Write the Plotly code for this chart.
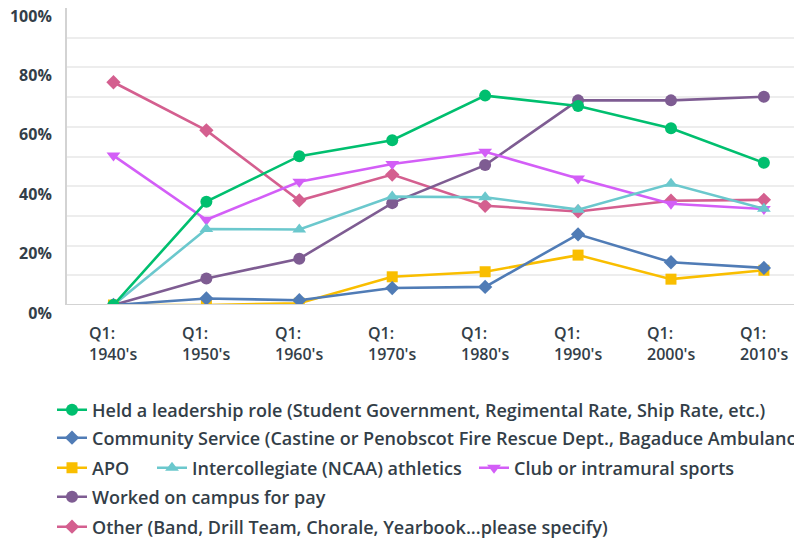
import plotly.graph_objects as go

# categories (survey question rows)
decades = ["1940's", "1950's", "1960's", "1970's", "1980's", "1990's", "2000's", "2010's"]

# percentages
leadership = [0.0, 34.8, 50.1, 55.5, 70.5, 67.0, 59.5, 47.9]
community = [0.0, 2.2, 1.6, 5.7, 6.1, 23.8, 14.4, 12.5]
apo = [0.0, 0.0, 0.6, 9.5, 11.2, 16.8, 8.7, 11.7]
ncaa = [0.0, 25.6, 25.4, 36.5, 36.3, 32.1, 40.8, 32.4]
club = [50.3, 28.7, 41.5, 47.5, 51.6, 42.6, 34.1, 32.3]
worked = [0.0, 8.9, 15.6, 34.3, 47.1, 68.9, 68.9, 70.1]
other = [75.0, 58.8, 35.2, 43.9, 33.4, 31.5, 35.1, 35.4]

y_ticks = [0, 10, 20, 30, 40, 50, 60, 70, 80, 90, 100]
y_labels = ["0%", "", "20%", "", "40%", "", "60%", "", "80%", "", "100%"]

# name, values, colour, symbol, marker size, legend text x / row y (page px)
SERIES = [
    ("Held a leadership role (Student Government, Regimental Rate, Ship Rate, etc.)",
     leadership, "#00bf6f", "circle", 12, 93, 410),
    ("Community Service (Castine or Penobscot Fire Rescue Dept., Bagaduce Ambulance, etc.)",
     community, "#507cb6", "diamond", 11, 93, 438),
    ("APO", apo, "#f9be00", "square", 11, 93, 468),
    ("Intercollegiate (NCAA) athletics", ncaa, "#6bc8cd", "triangle-up", 12, 193, 468),
    ("Club or intramural sports", club, "#d35ef7", "triangle-down", 12, 515, 468),
    ("Worked on campus for pay", worked, "#7e5c92", "circle", 12, 93, 497),
    ("Other (Band, Drill Team, Chorale, Yearbook...please specify)",
     other, "#d45f8f", "diamond", 11, 93, 527),
]

W, H = 802, 544
TEXT = "#333e48"
FONT = "Open Sans, Arial, sans-serif"
LEG_TEXT_OFFSET = 49  # legend box left -> text start (incl. page margin)
LEG_Y_FIX = 8         # page margin shifts everything down

fig = go.Figure()
legends = {}
# first series drawn last so it sits on top, as in the original
for idx in reversed(range(len(SERIES))):
    name, vals, col, sym, size, lx, ly = SERIES[idx]
    key = "legend" if idx == 0 else f"legend{idx + 1}"
    fig.add_trace(go.Scatter(
        x=list(range(len(decades))), y=[v / 100 for v in vals],
        name=name, mode="lines+markers", legend=key,
        line=dict(color=col, width=2.6),
        marker=dict(symbol=sym, size=size, color=col),
    ))
    legends[key] = dict(
        orientation="h", xref="container", yref="container",
        x=(lx - LEG_TEXT_OFFSET) / W, xanchor="left",
        y=1 - (ly - LEG_Y_FIX) / H, yanchor="middle",
        font=dict(size=18, color=TEXT, family=FONT, weight=600),
        bgcolor="rgba(0,0,0,0)",
    )

for i, d in enumerate(decades):
    fig.add_annotation(x=i, y=-0.05, xref="x", yref="paper",
                       text=f"Q1:<br>{d}", showarrow=False, align="left",
                       xanchor="center", yanchor="top",
                       font=dict(size=16, color=TEXT, family=FONT, weight=600))

fig.update_layout(
    width=W, height=H,
    paper_bgcolor="white", plot_bgcolor="white",
    font=dict(family=FONT, color=TEXT, size=16),
    # the page adds an 8px body margin, so the plot is laid out 8px up/left
    margin=dict(l=59, r=8, t=0, b=247, autoexpand=False),
    showlegend=True,
    xaxis=dict(range=[-0.5, 7.41], showticklabels=False, showgrid=False,
               zeroline=False, showline=False, ticks="", automargin=False),
    yaxis=dict(range=[0, 1], tickvals=[t / 100 for t in y_ticks], ticktext=y_labels,
               showgrid=True, gridcolor="#ededed", gridwidth=1.5,
               zeroline=False, showline=True, linecolor="#d3d3d3", linewidth=2,
               ticks="", ticklabelshift=8, ticklabelstandoff=10, automargin=False,
               ticklabeloverflow="allow",
               tickfont=dict(size=16, color=TEXT, family=FONT, weight=700)),
    hovermode=False,
    **legends,
)
# baseline
fig.add_hline(y=0, line_color="#d3d3d3", line_width=2)

fig.write_html("out.html")
